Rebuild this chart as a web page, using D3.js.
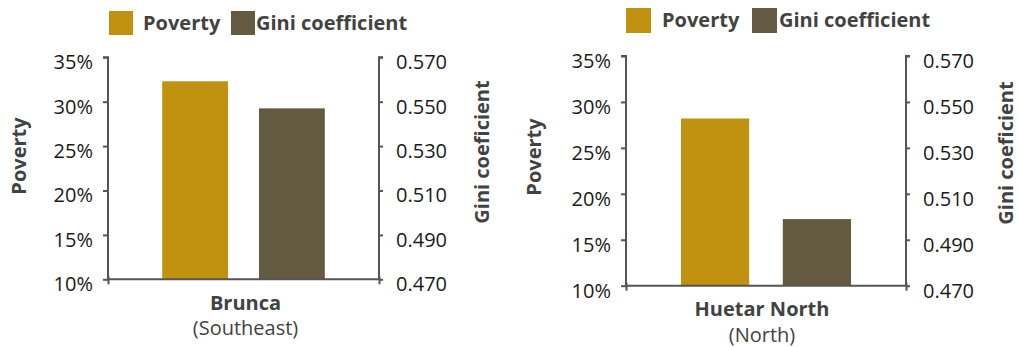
<!DOCTYPE html>
<html>
<head>
<meta charset="utf-8">
<script src="https://cdn.jsdelivr.net/npm/d3@7"></script>
<style>
  html, body { margin: 0; padding: 0; background: #fff; }
  svg { display: block; font-family: "Open Sans", "Noto Sans", sans-serif; }
</style>
</head>
<body>
<svg id="chart" width="1019" height="347"></svg>
<script>
// ---- data ----
const regions = ["Brunca", "Huetar North"];
const subtitles = ["(Southeast)", "(North)"];
const seriesNames = ["Poverty", "Gini coefficient"];
const povertyValues = [32.3, 28.2];
const giniValues = [0.547, 0.499];
const povertyTicks = [10, 15, 20, 25, 30, 35];
const giniTicks = [0.470, 0.490, 0.510, 0.530, 0.550, 0.570];
const povertyAxisTitle = "Poverty";
const giniAxisTitle = "Gini coeficient";

// ---- styles ----
const FONT = '"Open Sans", "Noto Sans", sans-serif';
const colors = ["#C1920F", "#645A42"];
const axisColor = "#555555";
const labelColor = "#424242";
const tickColor = "#1a1a1a";

// ---- layout per panel ----
const layouts = [
  { x0: 108, x1: 379, yTop: 57.3, yBot: 279.3, pI: 0.32, pO: 0.56,
    leg: { sq1: 109, sq2: 231, sqY: 11, sq: 24, t1: 143, t2: 256, base: 30 },
    povTitleX: 26, povTitleY: 156, giniTitleX: 489, giniTitleY: 152,
    labelX: 245.5, labelY1: 309.5, labelY2: 335 },
  { x0: 626, x1: 906, yTop: 56, yBot: 285.7, pI: 0.33, pO: 0.54,
    leg: { sq1: 626, sq2: 752, sqY: 8, sq: 25, t1: 662, t2: 779, base: 27 },
    povTitleX: 540.5, povTitleY: 157, giniTitleX: 1013, giniTitleY: 153,
    labelX: 762, labelY1: 316, labelY2: 342 }
];

const svg = d3.select("#chart");

regions.forEach((region, i) => {
  const L = layouts[i];
  const g = svg.append("g");

  const yPov = d3.scaleLinear().domain([d3.min(povertyTicks), d3.max(povertyTicks)]).range([L.yBot, L.yTop]);
  const yGini = d3.scaleLinear().domain([d3.min(giniTicks), d3.max(giniTicks)]).range([L.yBot, L.yTop]);
  const x = d3.scaleBand().domain(seriesNames).range([L.x0, L.x1])
    .paddingInner(L.pI).paddingOuter(L.pO);

  // bars
  const vals = [
    { name: seriesNames[0], y: yPov(povertyValues[i]), c: colors[0] },
    { name: seriesNames[1], y: yGini(giniValues[i]), c: colors[1] }
  ];
  g.selectAll("rect.bar").data(vals).enter().append("rect")
    .attr("class", "bar")
    .attr("x", d => x(d.name))
    .attr("width", x.bandwidth())
    .attr("y", d => d.y)
    .attr("height", d => L.yBot - d.y)
    .attr("fill", d => d.c);

  // left axis
  const leftAxis = d3.axisLeft(yPov).tickValues(povertyTicks)
    .tickFormat(d => d + "%").tickSize(5).tickPadding(10);
  const la = g.append("g").attr("transform", `translate(${L.x0},0)`).call(leftAxis)
    .attr("font-family", FONT).attr("font-size", 20);
  la.select(".domain").attr("stroke", axisColor).attr("stroke-width", 2).attr("d", `M-5,${L.yTop}H0V${L.yBot}`);
  la.selectAll(".tick line").attr("stroke", axisColor).attr("stroke-width", 2);
  la.selectAll(".tick text").attr("fill", tickColor).attr("dy", "0.57em");

  // right axis
  const rightAxis = d3.axisRight(yGini).tickValues(giniTicks)
    .tickFormat(d3.format(".3f")).tickSize(4).tickPadding(13);
  const ra = g.append("g").attr("transform", `translate(${L.x1},0)`).call(rightAxis)
    .attr("font-family", FONT).attr("font-size", 20);
  ra.select(".domain").attr("stroke", axisColor).attr("stroke-width", 2).attr("d", `M4,${L.yTop}H0V${L.yBot}`);
  ra.selectAll(".tick line").attr("stroke", axisColor).attr("stroke-width", 2);
  ra.selectAll(".tick text").attr("fill", tickColor).attr("dy", "0.57em");

  // bottom axis (baseline)
  const bottomAxis = d3.axisBottom(d3.scaleLinear().domain([0, 1]).range([L.x0, L.x1]))
    .tickValues([0, 1]).tickFormat("").tickSize(5);
  const ba = g.append("g").attr("transform", `translate(0,${L.yBot})`).call(bottomAxis);
  ba.select(".domain").attr("stroke", axisColor).attr("stroke-width", 2).attr("d", `M${L.x0},0H${L.x1}`);
  ba.selectAll(".tick line").attr("stroke", axisColor).attr("stroke-width", 2).attr("y1", -3);

  // axis titles
  g.append("text")
    .attr("transform", `translate(${L.povTitleX},${L.povTitleY}) rotate(-90)`)
    .attr("text-anchor", "middle").attr("fill", labelColor)
    .style("font-size", "20px").style("font-weight", "bold")
    .text(povertyAxisTitle);
  g.append("text")
    .attr("transform", `translate(${L.giniTitleX},${L.giniTitleY}) rotate(-90)`)
    .attr("text-anchor", "middle").attr("fill", labelColor)
    .style("font-size", "20px").style("font-weight", "bold")
    .text(giniAxisTitle);

  // category labels
  g.append("text").attr("x", L.labelX).attr("y", L.labelY1)
    .attr("text-anchor", "middle").attr("fill", labelColor)
    .style("font-size", "20px").style("font-weight", "bold").text(region);
  g.append("text").attr("x", L.labelX).attr("y", L.labelY2)
    .attr("text-anchor", "middle").attr("fill", labelColor)
    .style("font-size", "20px").text(subtitles[i]);

  // legend
  const lg = L.leg;
  [[lg.sq1, lg.t1], [lg.sq2, lg.t2]].forEach(([sx, tx], k) => {
    g.append("rect").attr("x", sx).attr("y", lg.sqY).attr("width", lg.sq).attr("height", lg.sq).attr("fill", colors[k]);
    g.append("text").attr("x", tx).attr("y", lg.base).attr("fill", labelColor)
      .style("font-size", "20px").style("font-weight", "bold").text(seriesNames[k]);
  });
});
</script>
</body>
</html>
